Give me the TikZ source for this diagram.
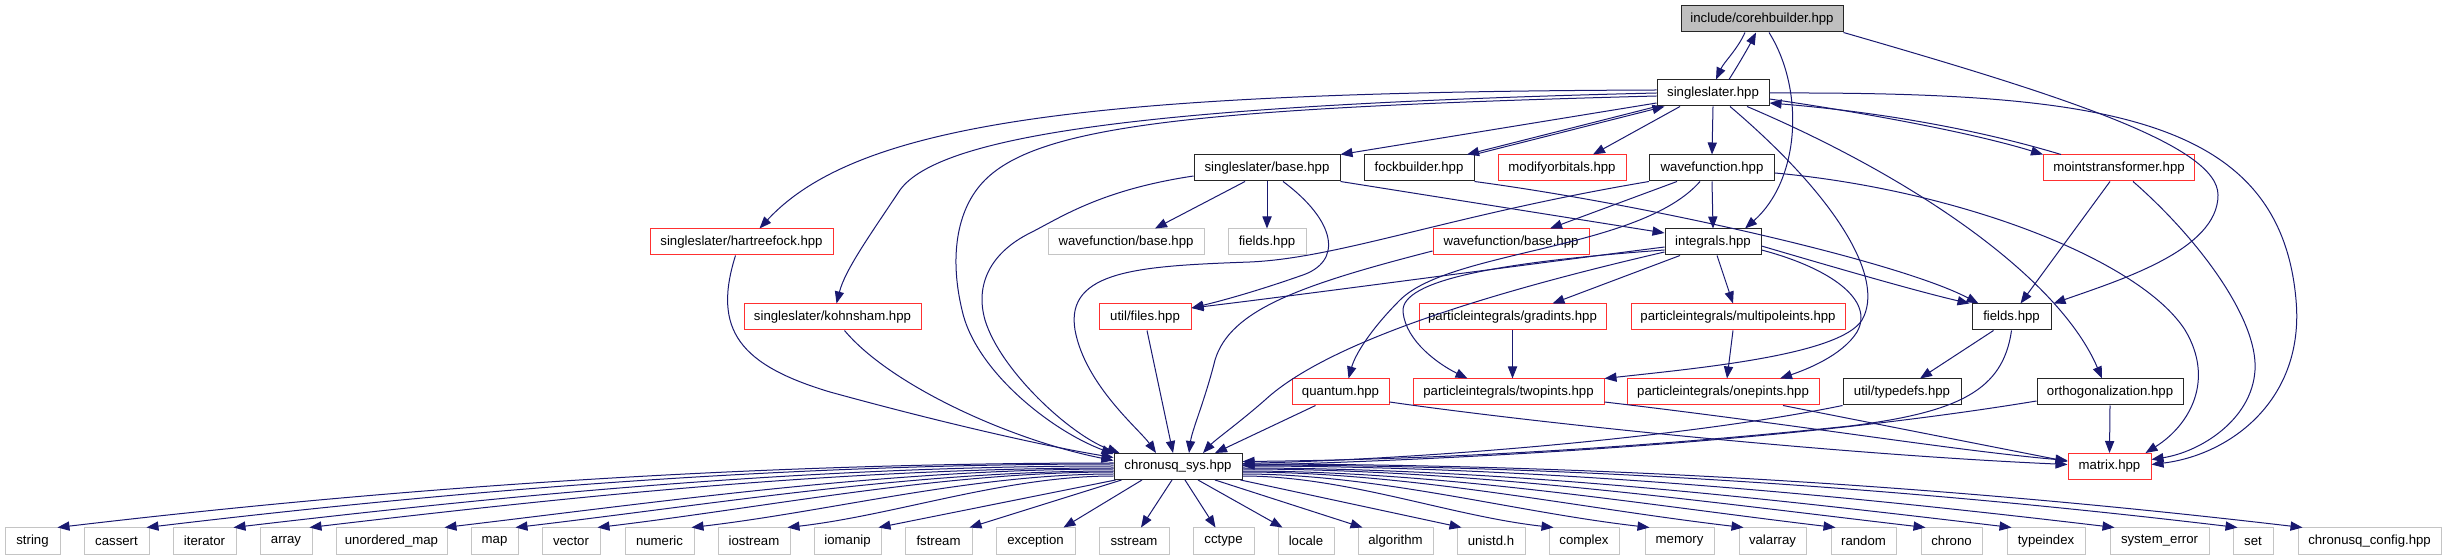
\documentclass[tikz,border=0pt]{standalone}
\usepackage{fontspec}
\setmainfont{Liberation Sans}
\usetikzlibrary{arrows.meta,calc}
\definecolor{edgec}{HTML}{191970}
\definecolor{redc}{HTML}{FF3030}
\definecolor{grayc}{HTML}{C4C4C4}
\definecolor{mainfill}{HTML}{BFBFBF}
\newcommand\fsz{\fontsize{6.6}{7.5}\selectfont}
\tikzset{
  box/.style={minimum height=13pt, inner sep=0pt, font=\fsz, line width=0.5pt},
  kbox/.style={box, draw=black!85},
  rbox/.style={box, draw=redc},
  gbox/.style={box, draw=grayc},
  mainbox/.style={box, draw=black!85, fill=mainfill},
  dep/.style={draw=edgec, line width=0.5pt, -{Triangle[length=6pt,width=4.6pt]}},
}
\begin{document}
\begin{tikzpicture}[x=0.5pt,y=-0.5pt]
\path[use as bounding box] (0,0) rectangle (2445,560);
% nodes
\node[mainbox, minimum width=81pt] (core) at (1762,19) {include/corehbuilder.hpp};
\node[kbox, minimum width=56pt] (ss) at (1713,93) {singleslater.hpp};
\node[kbox, minimum width=73pt] (ssbase) at (1267,168) {singleslater/base.hpp};
\node[kbox, minimum width=55pt] (fock) at (1419,168) {fockbuilder.hpp};
\node[rbox, minimum width=64pt] (modorb) at (1562,168) {modifyorbitals.hpp};
\node[kbox, minimum width=62.5pt] (wf) at (1712,168) {wavefunction.hpp};
\node[rbox, minimum width=75.5pt] (moint) at (2119,168) {mointstransformer.hpp};
\node[rbox, minimum width=91.5pt] (hf) at (741.5,242) {singleslater/hartreefock.hpp};
\node[gbox, minimum width=78pt] (wfbaseg) at (1126,242) {wavefunction/base.hpp};
\node[gbox, minimum width=39pt] (fieldsg) at (1267,242) {fields.hpp};
\node[rbox, minimum width=78pt] (wfbase) at (1511,242) {wavefunction/base.hpp};
\node[kbox, minimum width=48pt] (integ) at (1713,242) {integrals.hpp};
\node[rbox, minimum width=88.5pt] (ks) at (832.5,317) {singleslater/kohnsham.hpp};
\node[rbox, minimum width=46pt] (files) at (1145,317) {util/files.hpp};
\node[rbox, minimum width=93.5pt] (grad) at (1512.5,317) {particleintegrals/gradints.hpp};
\node[rbox, minimum width=107pt] (multi) at (1738,317) {particleintegrals/multipoleints.hpp};
\node[kbox, minimum width=39.5pt] (fields) at (2011.5,317) {fields.hpp};
\node[rbox, minimum width=48.5pt] (quantum) at (1340.5,392) {quantum.hpp};
\node[rbox, minimum width=95.5pt] (twop) at (1508.5,392) {particleintegrals/twopints.hpp};
\node[rbox, minimum width=96pt] (onep) at (1723,392) {particleintegrals/onepints.hpp};
\node[kbox, minimum width=59pt] (typedefs) at (1902,392) {util/typedefs.hpp};
\node[kbox, minimum width=73pt] (ortho) at (2110,392) {orthogonalization.hpp};
\node[kbox, minimum width=64pt] (cs) at (1178,466.5) {chronusq\_sys.hpp};
\node[rbox, minimum width=41.5pt] (matrix) at (2109.5,466.5) {matrix.hpp};
% bottom row
\node[gbox, minimum width=27.5pt] (string) at (32.5,541) {string};
\node[gbox, minimum width=32.5pt] (cassert) at (116.5,541) {cassert};
\node[gbox, minimum width=31.5pt] (iterator) at (204.5,541) {iterator};
\node[gbox, minimum width=26pt] (array) at (286,541) {array};
\node[gbox, minimum width=55.5pt] (umap) at (391.5,541) {unordered\_map};
\node[gbox, minimum width=23.5pt] (map) at (494.5,541) {map};
\node[gbox, minimum width=29pt] (vector) at (571,541) {vector};
\node[gbox, minimum width=34.5pt] (numeric) at (659.5,541) {numeric};
\node[gbox, minimum width=36pt] (iostream) at (754,541) {iostream};
\node[gbox, minimum width=33.5pt] (iomanip) at (847.5,541) {iomanip};
\node[gbox, minimum width=33.5pt] (fstream) at (938.5,541) {fstream};
\node[gbox, minimum width=39.5pt] (exception) at (1035.5,541) {exception};
\node[gbox, minimum width=35pt] (sstream) at (1134,541) {sstream};
\node[gbox, minimum width=30.5pt] (cctype) at (1223.5,541) {cctype};
\node[gbox, minimum width=28pt] (locale) at (1306,541) {locale};
\node[gbox, minimum width=37.5pt] (algorithm) at (1395.5,541) {algorithm};
\node[gbox, minimum width=34pt] (unistd) at (1491,541) {unistd.h};
\node[gbox, minimum width=35pt] (complex) at (1584,541) {complex};
\node[gbox, minimum width=34.5pt] (memory) at (1679.5,541) {memory};
\node[gbox, minimum width=33.5pt] (valarray) at (1772.5,541) {valarray};
\node[gbox, minimum width=32.5pt] (random) at (1863.5,541) {random};
\node[gbox, minimum width=30.5pt] (chrono) at (1951.5,541) {chrono};
\node[gbox, minimum width=39pt] (typeindex) at (2046,541) {typeindex};
\node[gbox, minimum width=49.5pt] (syserr) at (2159.5,541) {system\_error};
\node[gbox, minimum width=20pt] (set) at (2253,541) {set};
\node[gbox, minimum width=71.5pt] (config) at (2369.5,541) {chronusq\_config.hpp};
% core / singleslater
\draw[dep] ($(core.south)+(-17,0)$) .. controls (1737,50) and (1724,62) .. ($(ss.north)+(3,0)$);
\draw[dep] ($(ss.north)+(16,0)$) .. controls (1740,62) and (1748,48) .. ($(core.south)+(-6,0)$);
\draw[dep] ($(core.south)+(7,0)$) .. controls (1805,90) and (1800,180) .. ($(integ.north)+(32,0)$);
\draw[dep] (core.south east) .. controls (2060,95) and (2218,145) .. (2218,195) .. controls (2218,250) and (2120,280) .. ($(fields.north east)+(2,0)$);
% singleslater outgoing
\draw[dep] ($(ss.west)+(0,10)$) -- (ssbase.north east);
\draw[dep] (ss.south west) -- ($(fock.north)+(48,0)$);
\draw[dep] (fock.north east) -- ($(ss.south west)+(8,0)$);
\draw[dep] ($(ss.south)+(-33,0)$) -- ($(modorb.north)+(31,0)$);
\draw[dep] (ss.south) -- (wf.north);
\draw[dep] ($(ss.east)+(0,6)$) .. controls (1880,115) and (1980,135) .. (moint.north west);
\draw[dep] ($(moint.north west)+(18,0)$) .. controls (1980,130) and (1880,112) .. ($(ss.east)+(0,10)$);
\draw[dep] (ss.east) .. controls (2100,92) and (2280,115) .. (2296,300) .. controls (2305,400) and (2230,455) .. ($(matrix.east)+(0,-2)$);
\draw[dep] ($(ss.south)+(34,0)$) .. controls (1920,180) and (2060,280) .. ($(ortho.north)+(-8,0)$);
\draw[dep] ($(ss.south)+(17,0)$) .. controls (1840,200) and (1885,280) .. (1862,320) .. controls (1840,355) and (1700,368) .. (twop.north east);
\draw[dep] ($(ss.west)+(0,-3)$) .. controls (1100,92) and (860,120) .. ($(hf.north)+(18,0)$);
\draw[dep] (ss.west) .. controls (1150,105) and (940,135) .. (900,190) .. controls (870,235) and (845,270) .. ($(ks.north)+(4,0)$);
\draw[dep] ($(ss.west)+(0,3)$) .. controls (1200,108) and (1040,125) .. (985,180) .. controls (955,210) and (950,260) .. (962,310) .. controls (975,370) and (1050,430) .. ($(cs.north west)+(0,1)$);
% moint
\draw[dep] ($(moint.south)+(14,0)$) .. controls (2200,240) and (2258,320) .. (2255,370) .. controls (2252,420) and (2200,452) .. ($(matrix.east)+(0,-7)$);
\draw[dep] ($(moint.south)+(-9,0)$) -- ($(fields.north)+(9,0)$);
% wavefunction
\draw[dep] (wf.south) -- (integ.north);
\draw[dep] ($(wf.south)+(-35,0)$) -- ($(wfbase.north)+(39,0)$);
\draw[dep] (wf.south west) .. controls (1450,215) and (1340,258) .. (1250,262) .. controls (1140,266) and (1065,270) .. (1075,330) .. controls (1085,385) and (1140,430) .. ($(cs.north)+(-22,0)$);
\draw[dep] ($(wf.south)+(-12,0)$) .. controls (1640,250) and (1450,250) .. (1400,300) .. controls (1370,330) and (1355,355) .. ($(quantum.north)+(8,0)$);
\draw[dep] ($(wf.east)+(0,5)$) .. controls (1960,190) and (2140,260) .. (2185,330) .. controls (2215,380) and (2190,425) .. ($(matrix.north east)+(-6,0)$);
% singleslater/base
\draw[dep] ($(ssbase.south)+(-22,0)$) -- ($(wfbaseg.north)+(29,0)$);
\draw[dep] (ssbase.south) -- (fieldsg.north);
\draw[dep] ($(ssbase.south)+(16,0)$) .. controls (1335,220) and (1345,262) .. (1300,276) .. controls (1260,290) and (1225,300) .. ($(files.east)+(0,-9)$);
\draw[dep] (ssbase.south east) -- ($(integ.west)+(0,-9)$);
\draw[dep] ($(ssbase.west)+(0,8)$) .. controls (1100,190) and (1060,218) .. (1030,233) .. controls (990,253) and (975,285) .. (985,320) .. controls (1000,370) and (1070,435) .. ($(cs.north west)+(6,0)$);
% fockbuilder
\draw[dep] (fock.south east) .. controls (1650,205) and (1900,262) .. ($(fields.north west)+(7,0)$);
% hartreefock, kohnsham
\draw[dep] ($(hf.south)+(-6,0)$) .. controls (712,330) and (740,365) .. (830,392) .. controls (950,425) and (1050,447) .. ($(cs.west)+(0,-9)$);
\draw[dep] ($(ks.south)+(12,0)$) .. controls (890,385) and (1010,440) .. ($(cs.west)+(0,-6)$);
% files, quantum, wfbase
\draw[dep] ($(files.south)+(2,0)$) -- ($(cs.north)+(-5,0)$);
\draw[dep] ($(quantum.south)+(-25,0)$) -- ($(cs.north)+(37,0)$);
\draw[dep] ($(quantum.east)+(0,10)$) .. controls (1550,425) and (1850,455) .. ($(matrix.west)+(0,-2)$);
\draw[dep] ($(wfbase.west)+(0,9)$) .. controls (1300,285) and (1230,310) .. (1215,360) .. controls (1205,400) and (1192,430) .. ($(cs.north)+(11,0)$);
% integrals
\draw[dep] ($(integ.west)+(0,10)$) .. controls (1500,290) and (1330,340) .. (1265,400) .. controls (1240,422) and (1215,440) .. ($(cs.north)+(25,0)$);
\draw[dep] ($(integ.west)+(0,5)$) .. controls (1500,268) and (1300,295) .. ($(files.east)+(0,-9)$);
\draw[dep] ($(integ.west)+(0,8)$) .. controls (1500,262) and (1400,280) .. (1403,312) .. controls (1406,342) and (1440,365) .. ($(twop.north)+(-41,0)$);
\draw[dep] ($(integ.south)+(-33,0)$) -- ($(grad.north)+(40,0)$);
\draw[dep] ($(integ.south)+(4,0)$) -- ($(multi.north)+(-5,0)$);
\draw[dep] ($(integ.east)+(0,8)$) .. controls (1830,268) and (1875,300) .. (1857,332) .. controls (1842,356) and (1805,370) .. ($(onep.north)+(57,0)$);
\draw[dep] ($(integ.east)+(0,4)$) .. controls (1850,272) and (1920,292) .. ($(fields.north west)+(-2,0)$);
% particle integrals
\draw[dep] (grad.south) -- ($(twop.north)+(4,0)$);
\draw[dep] ($(multi.south)+(-5,0)$) -- ($(onep.north)+(4,0)$);
\draw[dep] ($(twop.east)+(0,10)$) .. controls (1800,425) and (1950,450) .. ($(matrix.west)+(0,-6)$);
\draw[dep] ($(onep.south)+(60,0)$) -- ($(matrix.west)+(0,-5)$);
% fields, typedefs, ortho
\draw[dep] ($(fields.south)+(-18,0)$) -- ($(typedefs.north)+(18,0)$);
\draw[dep] (fields.south) .. controls (2003,390) and (1960,412) .. (1850,426) .. controls (1600,452) and (1400,460) .. ($(cs.east)+(0,-5)$);
\draw[dep] (typedefs.south west) .. controls (1700,435) and (1450,458) .. ($(cs.east)+(0,-3)$);
\draw[dep] ($(ortho.west)+(0,9)$) .. controls (1800,440) and (1500,458) .. ($(cs.east)+(0,-1)$);
\draw[dep] (ortho.south) -- (matrix.north);
% chronusq_sys -> system headers
\draw[dep] ($(cs.west)+(0,-3.5)$) .. controls (762,463) and (409,486) .. ($(string.north east)+(-3,0)$);
\draw[dep] ($(cs.west)+(0,-2.5)$) .. controls (791,464) and (469,489) .. ($(cassert.north east)+(-3,0)$);
\draw[dep] ($(cs.west)+(0,-0.5)$) .. controls (820,466) and (527,493) .. ($(iterator.north east)+(-3,0)$);
\draw[dep] ($(cs.west)+(0,1.5)$) .. controls (846,468) and (577,496) .. ($(array.north east)+(-3,0)$);
\draw[dep] ($(cs.west)+(0,2.5)$) .. controls (891,469) and (667,501) .. ($(umap.north east)+(-3,0)$);
\draw[dep] ($(cs.west)+(0,4.5)$) .. controls (914,471) and (715,504) .. ($(map.north east)+(-3,0)$);
\draw[dep] ($(cs.west)+(0,5.5)$) .. controls (942,472) and (769,507) .. ($(vector.north east)+(-3,0)$);
\draw[dep] ($(cs.west)+(0,7.5)$) .. controls (973,474) and (832,511) .. ($(numeric.north east)+(-3,0)$);
\draw[dep] ($(cs.west)+(0,9.5)$) .. controls (1005,476) and (896,515) .. ($(iostream.north east)+(-3,0)$);
\draw[dep] ($(cs.south west)+(2,0)$) -- ($(iomanip.north east)+(-3,0)$);
\draw[dep] ($(cs.south west)+(8,0)$) -- ($(fstream.north east)+(-3,0)$);
\draw[dep] ($(cs.south)+(-36,0)$) -- ($(exception.north east)+(-12,0)$);
\draw[dep] ($(cs.south)+(-6,0)$) -- ($(sstream.north)+(7,0)$);
\draw[dep] ($(cs.south)+(7,0)$) -- ($(cctype.north)+(-8,0)$);
\draw[dep] ($(cs.south)+(20,0)$) -- ($(locale.north west)+(5,0)$);
\draw[dep] ($(cs.south)+(37,0)$) -- ($(algorithm.north west)+(5,0)$);
\draw[dep] ($(cs.south east)+(-2,0)$) -- ($(unistd.north west)+(5,0)$);
\draw[dep] ($(cs.east)+(0,9.5)$) .. controls (1346,476) and (1450,516) .. ($(complex.north west)+(5,0)$);
\draw[dep] ($(cs.east)+(0,7.5)$) .. controls (1378,474) and (1514,512) .. ($(memory.north west)+(5,0)$);
\draw[dep] ($(cs.east)+(0,5.5)$) .. controls (1409,472) and (1577,508) .. ($(valarray.north west)+(5,0)$);
\draw[dep] ($(cs.east)+(0,4.5)$) .. controls (1440,471) and (1638,504) .. ($(random.north west)+(5,0)$);
\draw[dep] ($(cs.east)+(0,2.5)$) .. controls (1470,469) and (1698,501) .. ($(chrono.north west)+(5,0)$);
\draw[dep] ($(cs.east)+(0,1.5)$) .. controls (1499,468) and (1755,497) .. ($(typeindex.north west)+(5,0)$);
\draw[dep] ($(cs.east)+(0,-0.5)$) .. controls (1533,466) and (1824,493) .. ($(syserr.north west)+(5,0)$);
\draw[dep] ($(cs.east)+(0,-1.5)$) .. controls (1573,465) and (1905,488) .. ($(set.north west)+(5,0)$);
\draw[dep] ($(cs.east)+(0,-2.5)$) .. controls (1596,464) and (1949,486) .. ($(config.north west)+(5,0)$);
\end{tikzpicture}
\end{document}
